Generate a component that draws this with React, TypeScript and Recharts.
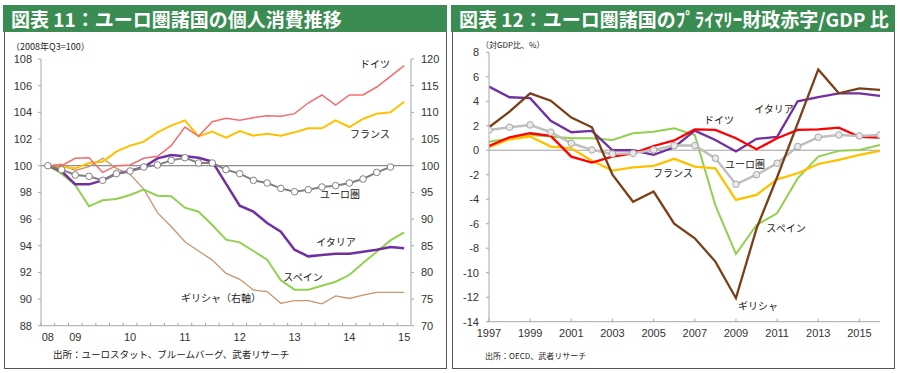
import React from 'react';
import { LineChart, Line, XAxis, YAxis, ReferenceLine } from 'recharts';

// ---------- Chart 11: private consumption (2008Q3 = 100) ----------
const quarters = [
  '08Q3', '08Q4', '09Q1', '09Q2', '09Q3', '09Q4', '10Q1', '10Q2', '10Q3', '10Q4',
  '11Q1', '11Q2', '11Q3', '11Q4', '12Q1', '12Q2', '12Q3', '12Q4', '13Q1', '13Q2',
  '13Q3', '13Q4', '14Q1', '14Q2', '14Q3', '14Q4', '15Q1',
];
const quarterTickCats = ['08Q3', '09Q1', '10Q1', '11Q1', '12Q1', '13Q1', '14Q1', '15Q1'];
const quarterTickLabels = ['08', '09', '10', '11', '12', '13', '14', '15'];

const germanyQ = [100, 100, 100.55, 100.6, 99.5, 100, 100.05, 100.55, 100.7, 101.5, 102.9, 102.2, 103.3, 103.55, 103.4, 103.6, 103.75, 103.7, 103.9, 104.7, 105.3, 104.55, 105.3, 105.3, 105.9, 106.7, 107.5];
const franceQ = [100, 99.9, 99.8, 100.2, 100.3, 101.05, 101.5, 101.8, 102.5, 103, 103.4, 102.2, 102.55, 102.1, 102.6, 102.25, 102.4, 102.25, 102.5, 102.8, 102.8, 103.4, 102.9, 103.5, 103.9, 104, 104.8];
const euroQ = [100, 99.7, 99.3, 99.2, 98.9, 99.4, 99.6, 99.9, 100.05, 100.4, 100.6, 100.2, 100.2, 99.7, 99.4, 98.9, 98.7, 98.3, 98.05, 98.2, 98.4, 98.5, 98.7, 99, 99.5, 99.9, null];
const italyQ = [100, 99.6, 98.6, 98.6, 98.9, 99.4, 99.6, 99.9, 100.55, 100.8, 100.7, 100.6, 100.3, 98.65, 97.0, 96.55, 95.7, 95.05, 93.7, 93.2, 93.3, 93.4, 93.4, 93.55, 93.7, 93.9, 93.8];
const spainQ = [100, 99.4, 98.55, 96.95, 97.4, 97.5, 97.8, 98.2, 97.75, 97.7, 96.85, 96.55, 95.55, 94.45, 94.25, 93.6, 92.95, 91.4, 90.7, 90.7, 91.0, 91.3, 91.8, 92.7, 93.55, 94.4, 95.0];
// Greece on the right axis
const greeceQ = [100, 100.3, 99.1, 99.8, 101.4, 99.5, 98.4, 95.6, 91.2, 88.6, 85.75, 84.0, 82.3, 79.8, 78.7, 76.7, 76.4, 74.2, 74.7, 74.7, 74.1, 75.6, 75.1, 75.75, 76.25, 76.25, 76.25];

const leftTicks = [88, 90, 92, 94, 96, 98, 100, 102, 104, 106, 108];
const rightTicks = [70, 75, 80, 85, 90, 95, 100, 105, 110, 115, 120];

// ---------- Chart 12: primary deficit / GDP ----------
const years = [1997, 1998, 1999, 2000, 2001, 2002, 2003, 2004, 2005, 2006, 2007, 2008, 2009, 2010, 2011, 2012, 2013, 2014, 2015, 2016];
const italyY = [5.2, 4.33, 4.25, 2.4, 1.47, 1.58, 0.0, 0.0, -0.38, 0.25, 1.6, 0.84, -0.1, 0.93, 1.1, 4.0, 4.33, 4.65, 4.65, 4.44];
const germanyY = [0.35, 1.06, 1.39, 1.17, -0.52, -1.0, -0.52, -0.25, 0.35, 0.8, 1.7, 1.66, 0.98, 0.08, 0.98, 1.66, 1.71, 1.85, 1.1, 1.03];
const franceY = [0.25, 0.9, 1.12, 0.3, 0.16, -0.85, -1.66, -1.39, -1.28, -0.7, -1.33, -1.47, -4.05, -3.65, -2.37, -1.88, -1.12, -0.79, -0.38, -0.05];
const spainY = [0.7, 0.98, 1.25, 1.12, 0.98, 0.98, 0.84, 1.39, 1.52, 1.8, 1.25, -4.5, -8.47, -6.1, -5.15, -2.3, -0.52, -0.05, 0.03, 0.44];
const greeceY = [1.88, 3.15, 4.65, 4.05, 2.67, 1.88, -2.0, -4.2, -3.37, -6.0, -7.19, -9.09, -12.08, -6.4, -2.2, 2.2, 6.6, 4.65, 5.06, 4.93];
const euroY = [1.66, 1.88, 2.07, 1.47, 0.57, 0.03, -0.3, -0.25, 0.03, 0.38, 0.38, -0.65, -2.78, -2.0, -1.06, 0.3, 1.06, 1.25, 1.17, 1.25];

const yearTickLabels = [1997, 1999, 2001, 2003, 2005, 2007, 2009, 2011, 2013, 2015];
const pbTicks = [-14, -12, -10, -8, -6, -4, -2, 0, 2, 4, 6, 8];

const NUM_FONT = '"Liberation Sans", Arial, sans-serif';
const JP_FONT = '"Noto Sans CJK JP", "Noto Sans", sans-serif';
const GREEN = '#3a8c52';
const AXIS = '#a6a6a6';

const consData = quarters.map((q, i) => ({
  i,
  q,
  germany: germanyQ[i],
  france: franceQ[i],
  euro: euroQ[i],
  italy: italyQ[i],
  spain: spainQ[i],
  greece: greeceQ[i],
}));

const pbData = years.map((y, k) => ({
  year: y,
  italy: italyY[k],
  germany: germanyY[k],
  france: franceY[k],
  spain: spainY[k],
  greece: greeceY[k],
  euro: euroY[k],
}));

const qLabelIdx = quarterTickCats.map((c) => quarters.indexOf(c));
const qBoundaries = quarters.map((_, i) => i - 0.5);
const qTicks = [...qBoundaries, ...qLabelIdx].sort((a, b) => a - b);

const QTick = (props: any) => {
  const { x, y, payload } = props;
  const v = payload.value as number;
  if (!Number.isInteger(v)) {
    return <line x1={x} x2={x} y1={y} y2={y - 3} stroke={AXIS} strokeWidth={1} />;
  }
  const k = qLabelIdx.indexOf(v);
  return (
    <text x={x} y={y + 15} textAnchor="middle" fontSize={11} fontFamily={NUM_FONT} fill="#333">
      {k >= 0 ? quarterTickLabels[k] : ''}
    </text>
  );
};

const YearTick = (props: any) => {
  const { x, y, payload } = props;
  return (
    <g>
      <line x1={x} x2={x} y1={y} y2={y - 3} stroke={AXIS} strokeWidth={1} />
      <text x={x} y={y + 15.5} textAnchor="middle" fontSize={11} fontFamily={NUM_FONT} fill="#333">
        {payload.value}
      </text>
    </g>
  );
};

const Label = ({ x, y, text, size = 10 }: { x: number; y: number; text: string; size?: number }) => (
  <div
    style={{
      position: 'absolute',
      left: x,
      top: y,
      transform: 'translate(-50%, -50%)',
      whiteSpace: 'nowrap',
      fontFamily: JP_FONT,
      fontSize: size,
      lineHeight: 1,
      color: '#222',
    }}
  >
    {text}
  </div>
);

const Panel = ({ left, title }: { left: number; title: string }) => (
  <>
    <div
      style={{
        position: 'absolute',
        left: left,
        top: 5,
        width: 443,
        height: 364,
        border: '1.5px solid #555',
        boxSizing: 'border-box',
        background: '#fff',
      }}
    />
    <div
      style={{
        position: 'absolute',
        left: left - 1,
        top: 5,
        width: 444,
        height: 27,
        background: GREEN,
        color: '#fff',
        fontFamily: JP_FONT,
        fontWeight: 700,
        fontSize: 19,
        lineHeight: '27px',
        paddingLeft: 8,
        boxSizing: 'border-box',
        whiteSpace: 'nowrap',
      }}
    >
      {title}
    </div>
  </>
);

export default function App() {
  return (
    <div style={{ position: 'absolute', left: 0, top: 0, width: 900, height: 373, background: '#fff', overflow: 'hidden' }}>
      <Panel left={4} title="図表 11：ユーロ圏諸国の個人消費推移" />
      <Panel left={452} title="図表 12：ユーロ圏諸国のﾌﾟﾗｲﾏﾘｰ財政赤字/GDP 比" />

      {/* Left chart */}
      <div style={{ position: 'absolute', left: 0, top: 0 }}>
        <LineChart width={450} height={373} data={consData} margin={{ top: 59, right: 9, bottom: 17.3, left: 11 }}>
          <XAxis
            dataKey="i"
            type="number"
            domain={[-0.5, 26.5]}
            allowDataOverflow
            ticks={qTicks}
            interval={0}
            tickLine={false}
            tickSize={0}
            tickMargin={0}
            tick={QTick}
            stroke={AXIS}
            height={30}
          />
          <YAxis
            yAxisId="left"
            domain={[88, 108]}
            ticks={leftTicks}
            interval={0}
            tickSize={3}
            tickMargin={6}
            stroke={AXIS}
            width={30}
            tick={{ fill: '#333', fontSize: 11, fontFamily: NUM_FONT }}
          />
          <YAxis
            yAxisId="right"
            orientation="right"
            domain={[70, 120]}
            ticks={rightTicks}
            interval={0}
            tickSize={3}
            tickMargin={7}
            stroke={AXIS}
            width={30}
            tick={{ fill: '#333', fontSize: 11, fontFamily: NUM_FONT }}
          />
          <ReferenceLine yAxisId="left" y={100} stroke="#8c8c8c" strokeWidth={1.2} />
          <Line yAxisId="right" dataKey="greece" stroke="#c8966c" strokeWidth={1.3} dot={false} isAnimationActive={false} />
          <Line yAxisId="left" dataKey="spain" stroke="#92d050" strokeWidth={2} dot={false} isAnimationActive={false} />
          <Line yAxisId="left" dataKey="france" stroke="#ffc000" strokeWidth={2} dot={false} isAnimationActive={false} />
          <Line yAxisId="left" dataKey="germany" stroke="#f26d6d" strokeWidth={1.5} dot={false} isAnimationActive={false} />
          <Line yAxisId="left" dataKey="italy" stroke="#7030a0" strokeWidth={2.5} dot={false} isAnimationActive={false} />
          <Line
            yAxisId="left"
            dataKey="euro"
            stroke="#808080"
            strokeWidth={2}
            dot={{ r: 3.3, fill: '#fff', stroke: '#808080', strokeWidth: 1 }}
            isAnimationActive={false}
          />
        </LineChart>
      </div>

      {/* Right chart */}
      <div style={{ position: 'absolute', left: 450, top: 0 }}>
        <LineChart width={450} height={373} data={pbData} margin={{ top: 52.3, right: 20, bottom: 21.3, left: 9 }}>
          <XAxis
            dataKey="year"
            type="number"
            domain={[1997, 2016]}
            allowDataOverflow
            ticks={yearTickLabels}
            interval={0}
            tickLine={false}
            tickSize={0}
            tickMargin={0}
            tick={YearTick}
            stroke={AXIS}
            height={30}
          />
          <YAxis
            domain={[-14, 8]}
            ticks={pbTicks}
            interval={0}
            tickSize={3}
            tickMargin={7}
            stroke={AXIS}
            width={30}
            tick={{ fill: '#333', fontSize: 11, fontFamily: NUM_FONT }}
          />
          <ReferenceLine y={0} stroke="#a0a0a0" strokeWidth={1.2} />
          <Line dataKey="spain" stroke="#92d050" strokeWidth={2} dot={false} isAnimationActive={false} />
          <Line dataKey="france" stroke="#ffc000" strokeWidth={2.3} dot={false} isAnimationActive={false} />
          <Line dataKey="italy" stroke="#7030a0" strokeWidth={2.3} dot={false} isAnimationActive={false} />
          <Line dataKey="germany" stroke="#ff0000" strokeWidth={2.3} dot={false} isAnimationActive={false} />
          <Line
            dataKey="euro"
            stroke="#bfbfbf"
            strokeWidth={2.5}
            dot={{ r: 3.3, fill: '#e8e8e8', stroke: '#a6a6a6', strokeWidth: 1 }}
            isAnimationActive={false}
          />
          <Line dataKey="greece" stroke="#7b3f17" strokeWidth={2.3} dot={false} isAnimationActive={false} />
        </LineChart>
      </div>

      {/* Subtitles & footers */}
      <div style={{ position: 'absolute', left: 11, top: 41, fontFamily: JP_FONT, fontSize: 9, lineHeight: '11px', color: '#222', whiteSpace: 'nowrap' }}>
        （2008年Q3=100）
      </div>
      <div style={{ position: 'absolute', left: 481, top: 39, fontFamily: JP_FONT, fontSize: 8, lineHeight: '11px', color: '#222', whiteSpace: 'nowrap' }}>
        （対GDP比、%）
      </div>
      <div style={{ position: 'absolute', left: 53, top: 349, fontFamily: JP_FONT, fontSize: 9.5, lineHeight: '11px', color: '#222', whiteSpace: 'nowrap' }}>
        出所：ユーロスタット、ブルームバーグ、武者リサーチ
      </div>
      <div style={{ position: 'absolute', left: 485, top: 350, fontFamily: JP_FONT, fontSize: 8, lineHeight: '11px', color: '#222', whiteSpace: 'nowrap' }}>
        出所：OECD、武者リサーチ
      </div>

      {/* Series labels, left */}
      <Label x={375} y={64} text="ドイツ" />
      <Label x={370} y={134} text="フランス" />
      <Label x={340} y={194} text="ユーロ圏" />
      <Label x={336} y={242} text="イタリア" />
      <Label x={303} y={277} text="スペイン" />
      <Label x={221} y={298} text="ギリシャ（右軸）" />

      {/* Series labels, right */}
      <Label x={719} y={120} text="ドイツ" />
      <Label x={774} y={109} text="イタリア" />
      <Label x={745} y={164} text="ユーロ圏" />
      <Label x={673} y={173} text="フランス" />
      <Label x={786} y={228} text="スペイン" />
      <Label x={758} y={306} text="ギリシャ" />
    </div>
  );
}
